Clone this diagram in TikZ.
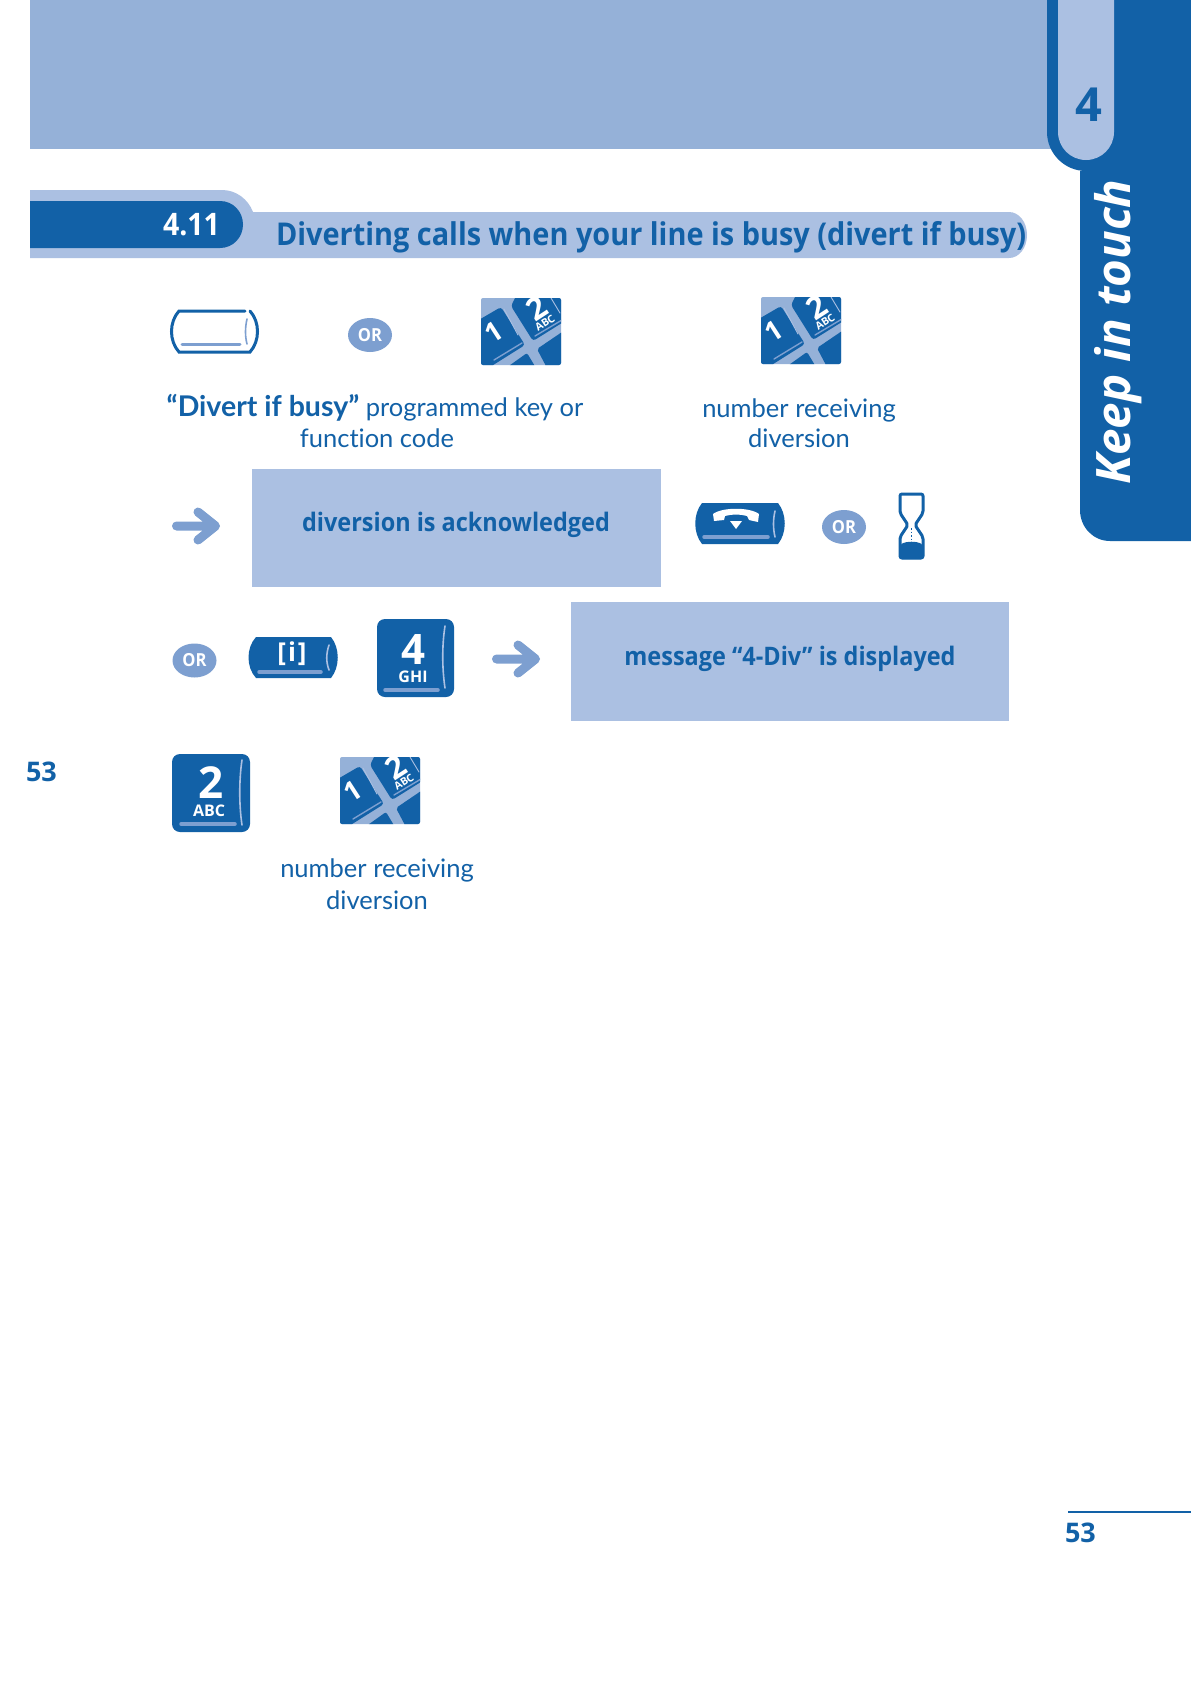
\documentclass[tikz,border=0pt]{standalone}
\usepackage{fontspec}
\usetikzlibrary{shapes.geometric}
\setmainfont{Open Sans}
\newfontfamily\condfont[FakeStretch=0.92]{Open Sans}
\newfontfamily\latofont[Ligatures=NoCommon]{Lato}
\definecolor{dk}{HTML}{1261A7}
\definecolor{band}{HTML}{95B1D8}
\definecolor{lt}{HTML}{ABC0E2}
\definecolor{mid}{HTML}{7D9FD0}
\newcommand{\fsz}[1]{\fontsize{#1pt}{#1pt}\selectfont}
\tikzset{
  lbl/.style={inner sep=0pt,outer sep=0pt,text=dk,font=\bfseries},
  body/.style={inner sep=0pt,outer sep=0pt,text=dk,anchor=base,font=\latofont\fsz{25.5}},
  wht/.style={inner sep=0pt,outer sep=0pt,text=white,font=\bfseries},
  orbadge/.style={ellipse,fill=mid,text=white,minimum width=44pt,minimum height=34pt,inner sep=0pt,font=\condfont\bfseries\fsz{18}},
  msgbox/.style={fill=lt,draw=none},
  arrowshape/.style={draw=mid,line width=9pt,line cap=round,line join=round},
  hilite/.style={draw=mid,line width=3.5pt,line cap=round},
  edge/.style={draw=lt,line width=1.6pt,line cap=round},
  keypad/.pic={
    \fill[band,rounded corners=2pt] (0,0) rectangle (80,67);
    \begin{scope}
      \clip[rounded corners=2pt] (0,0) rectangle (80,67);
      \fill[dk,rounded corners=3pt] (-4,23) -- (20,9) -- (44,47) -- (9,69) -- (-4,69) -- cycle;
      \fill[dk,rounded corners=3pt] (30,8) -- (36,-4) -- (84,-4) -- (84,23) -- (52,43) -- cycle;
      \fill[dk,rounded corners=2pt] (25,70) -- (46,55) -- (55,70) -- cycle;
      \fill[dk,rounded corners=2pt] (56,51) -- (84,32) -- (84,70) -- (66,70) -- cycle;
      \draw[hilite,line width=1.4pt] (13,62) -- (41,45);
      \draw[edge,line width=0.9pt] (23,11) -- (37,37);
      \draw[hilite,line width=1.4pt] (54,38) -- (81,22);
      \draw[edge,line width=0.9pt] (70,0) -- (79,15);
      \node[wht,rotate=33,font=\bfseries\fsz{27}] (-one) at (13,34) {1};
      \node[wht,rotate=33,font=\bfseries\fsz{31}] (-two) at (56,10) {2};
      \node[wht,rotate=33,font=\bfseries\fsz{10.5}] (-abc) at (64,25) {ABC};
    \end{scope}
  }
}
\begin{document}
\begin{tikzpicture}[x=1pt,y=-1pt]
\useasboundingbox (0,0) rectangle (1191,1684);
\fill[white] (0,0) rectangle (1191,1684);
% header band
\fill[band] (30,0) rectangle (1060,149);
% side tab
\fill[dk] (1047,0) -- (1047,132) .. controls (1047,153.5) and (1064.5,171) .. (1086,171)
  -- (1080,171) -- (1080,510) .. controls (1080,527) and (1093,541) .. (1110,541)
  -- (1191,541) -- (1191,0) -- cycle;
\fill[lt] (1058,0) -- (1058,132) .. controls (1058,147.5) and (1070.5,160) .. (1086,160)
  .. controls (1101.5,160) and (1114,147.5) .. (1114,132) -- (1114,0) -- cycle;
\node[lbl,font=\bfseries\fsz{47}] (chapter) at (1089,104.5) {4};
\node[wht,rotate=90,font=\bfseries\itshape\fsz{47.5}] (side) at (1118,332) {Keep in touch};
% title band
\fill[lt] (30,190) -- (222,190) .. controls (236,190) and (248,199) .. (253,212)
  -- (1009,212) .. controls (1019,212) and (1027,222) .. (1027,235)
  .. controls (1027,248) and (1019,258) .. (1009,258) -- (30,258) -- cycle;
\fill[dk] (30,201) -- (220,201) .. controls (233,201) and (243,211.5) .. (243,224.5)
  .. controls (243,237.5) and (233,248) .. (220,248) -- (30,248) -- cycle;
\node[wht,anchor=base east,font=\condfont\bfseries\fsz{31}] (secnum) at (220,235) {4.11};
\node[lbl,anchor=base west,font=\condfont\bfseries\fsz{31.4}] (title) at (276,245) {Diverting calls when your line is busy (divert if busy)};
% row 1
\draw[dk,line width=3pt,line cap=round] (245,311) -- (179,311) .. controls (169,322) and (169,341) .. (179,352) -- (250,352) .. controls (260,341) and (260,322) .. (250,311);
\draw[hilite,line width=3pt] (182,344) -- (240,344);
\draw[hilite,line width=1.6pt] (247,319) .. controls (245,328) and (245,336) .. (247,344);
\node[orbadge] (or1) at (370,335) {OR};
\pic (pad1) at (481,298) {keypad};
\pic (pad2) at (761,297) {keypad};
\node[body] (t1) at (375,416.5) {{\fsz{28.5}\textbf{“Divert if busy”}} programmed key or};
\node[body] (t2) at (377,447) {function code};
\node[body] (t3) at (799,417) {number receiving};
\node[body] (t4) at (799,447) {diversion};
% row 2
\draw[arrowshape] (176.5,526) -- (215,526) (198,512) -- (215.5,526) -- (198,540);
\path[msgbox,fill] (252,469) rectangle (661,587);
\node[lbl,font=\condfont\bfseries\fsz{25.5}] (m1) at (456,525) {diversion is acknowledged};
\fill[dk] (702,503) -- (778,503) .. controls (787,514) and (787,533) .. (778,544) -- (702,544) .. controls (693,533) and (693,514) .. (702,503) -- cycle;
\fill[white] (713,514) .. controls (722,507) and (750,507) .. (759,514) -- (758,522) -- (749,520) -- (747,516) .. controls (740,514) and (732,514) .. (725,516) -- (724,520) -- (714,521) -- cycle;
\fill[white] (730,521) -- (742,521) -- (736,529) -- cycle;
\draw[hilite] (704,537) -- (768,537);
\draw[edge] (775,511) .. controls (773,520) and (773,528) .. (775,537);
\node[orbadge] (or2) at (844,527) {OR};
% hourglass
\fill[dk,rounded corners=2pt] (900,545) .. controls (906,541) and (917,541) .. (923,545) -- (923,559) -- (900,559) -- cycle;
\draw[dk,line width=3pt,line join=round,rounded corners=2pt] (900,494) -- (923,494) -- (923,513) -- (915,525) -- (923,537) -- (923,558) -- (900,558) -- (900,537) -- (908,525) -- (900,513) -- cycle;
\draw[dk,line width=1.5pt,dotted] (911.5,528) -- (911.5,542);
% row 3
\node[orbadge] (or3) at (194.5,660.5) {OR};
\fill[dk] (256,637) -- (331,637) .. controls (340,648) and (340,667) .. (331,678) -- (256,678) .. controls (246,667) and (246,648) .. (256,637) -- cycle;
\node[wht,font=\bfseries\fsz{26}] (info) at (292,654) {[\kern2pt i\kern2pt]};
\draw[hilite] (259,672) -- (321,672);
\draw[edge] (329,645) .. controls (326,654) and (326,662) .. (329,670);
\fill[dk,rounded corners=8pt] (377,619) rectangle (454,697);
\node[wht,font=\bfseries\fsz{42}] (k4) at (413,649) {4};
\node[wht,font=\bfseries\fsz{16}] (ghi) at (413,677) {GHI};
\draw[hilite] (385,690) -- (438,690);
\draw[edge] (445,626) .. controls (442,645) and (442,668) .. (445,688);
\draw[arrowshape] (496.5,659) -- (535,659) (518,645) -- (535.5,659) -- (518,673);
\path[msgbox,fill] (571,602) rectangle (1009,721);
\node[lbl,font=\condfont\bfseries\fsz{25.5}] (m2) at (790,659) {message “4-Div” is displayed};
% row 4
\node[lbl,anchor=base west,font=\bfseries\fsz{27}] (pgl) at (26,781) {53};
\fill[dk,rounded corners=8pt] (172,754) rectangle (250,832);
\node[wht,font=\bfseries\fsz{44}] (k2) at (211,783) {2};
\node[wht,font=\bfseries\fsz{16}] (abc) at (209,811) {ABC};
\draw[hilite] (181,824) -- (235,824);
\draw[edge] (242,760) .. controls (239,780) and (239,805) .. (242,825);
\pic (pad3) at (340,757) {keypad};
\node[body] (t5) at (377,877) {number receiving};
\node[body] (t6) at (377,909) {diversion};
% footer
\draw[dk,line width=2pt] (1068,1512) -- (1191,1512);
\node[lbl,anchor=base west,font=\bfseries\fsz{27}] (pgr) at (1065,1542) {53};
\end{tikzpicture}
\end{document}
